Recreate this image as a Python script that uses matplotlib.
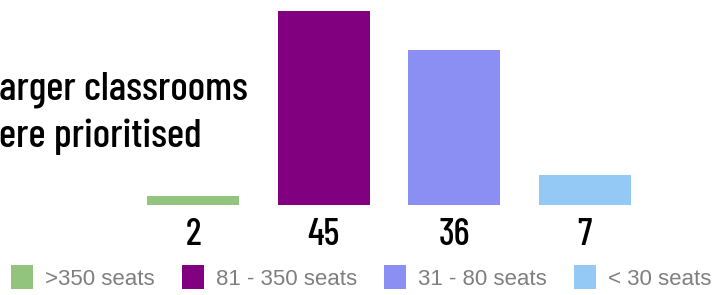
import matplotlib.pyplot as plt
from matplotlib.patches import Patch

categories = ['>350 seats', '81 - 350 seats', '31 - 80 seats', '< 30 seats']
values = [2, 45, 36, 7]
colors = ['#93c47d', '#800080', '#8b8ef2', '#94c8f5']
title_lines = ['arger classrooms', 'ere prioritised']

cond = ['Barlow Condensed', 'DejaVu Sans']

fig = plt.figure(figsize=(7.18, 2.95), dpi=100)
ax = fig.add_axes([0, 0, 1, 1])
ax.set_xlim(-1.479, 4.023)
ax.set_ylim(-20.88, 47.56)
ax.axis('off')

x = range(len(values))
ax.bar(x, values, width=0.705, color=colors)

for i, v in zip(x, values):
    ax.text(i, -9.3, str(v), ha='center', va='baseline', fontsize=27,
            family=cond, weight=500, color='black')

# title, cut off at the left edge like the source
fig.text(-0.002, 195 / 295, title_lines[0], ha='left', va='baseline',
         fontsize=29.5, family=cond, weight=500, color='black')
fig.text(-0.002, 148 / 295, title_lines[1], ha='left', va='baseline',
         fontsize=29.5, family=cond, weight=500, color='black')

handles = [Patch(facecolor=c, edgecolor='none') for c in colors]
fig.legend(handles, categories, loc='lower center', bbox_to_anchor=(0.503, -0.05),
           ncol=4, frameon=False, labelcolor='#7f7f7f',
           handlelength=1.0, handleheight=1.3, handletextpad=0.55, columnspacing=1.2,
           prop={'family': 'Liberation Sans', 'size': 16})

fig.savefig('out.png', dpi=100)
